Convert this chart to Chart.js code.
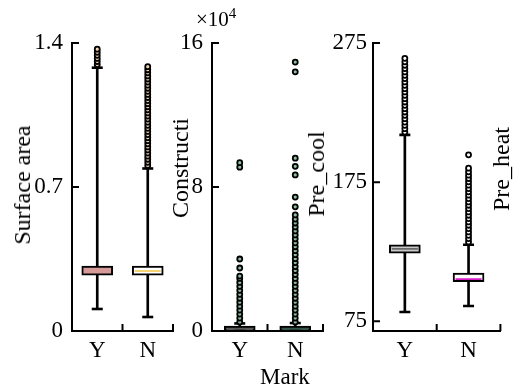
<!DOCTYPE html>
<html>
<head>
<meta charset="utf-8">
<script src="https://cdn.jsdelivr.net/npm/chart.js@4.4.1/dist/chart.umd.min.js"></script>
<style>
  html,body{margin:0;padding:0;background:#fff;}
  #wrap{position:relative;width:515px;height:390px;overflow:hidden;font-family:"Liberation Serif","Times New Roman",serif;color:#000;}
  #wrap canvas{position:absolute;left:0;top:0;}
  .lbl{position:absolute;white-space:nowrap;line-height:1;font-size:24px;}
  .rot{transform:translate(-50%,-50%) rotate(-90deg);}
</style>
</head>
<body>
<div id="wrap">
  <canvas id="c1" width="515" height="390"></canvas>
  <canvas id="c2" width="515" height="390"></canvas>
  <canvas id="c3" width="515" height="390"></canvas>
  <div class="lbl rot" style="left:22px;top:185px;">Surface area</div>
  <div class="lbl rot" style="left:180px;top:168px;">Constructi</div>
  <div class="lbl rot" style="left:316px;top:174px;">Pre_cool</div>
  <div class="lbl rot" style="left:501px;top:169px;">Pre_heat</div>
  <div class="lbl" style="left:196px;top:9px;font-size:21px;">×10<sup style="font-size:15px;vertical-align:8px;line-height:0;">4</sup></div>
  <div class="lbl" style="left:260px;top:365px;font-size:23px;">Mark</div>
</div>
<script>
// ---------- data ----------
const categories = ['Y', 'N'];

// Panel 1: Surface area
const saQ1 = [0.272, 0.272];
const saQ3 = [0.315, 0.315];
const saMedian = [0.292, 0.292];
const saWhiskerLow = [0.107, 0.068];
const saWhiskerHigh = [1.28, 0.79];
const saOutliersY = [1.295, 1.31, 1.325, 1.34, 1.355, 1.37];
const saOutliersN = [0.805, 0.82, 0.835, 0.85, 0.865, 0.88, 0.895, 0.91, 0.925, 0.94, 0.955, 0.97,
  0.985, 1.0, 1.015, 1.03, 1.045, 1.06, 1.075, 1.09, 1.105, 1.12, 1.135, 1.15, 1.165, 1.18,
  1.195, 1.21, 1.225, 1.24, 1.255, 1.27, 1.285];
const saTicks = [0, 0.7, 1.4];

// Panel 2: Constructi (x 10^4)
const coQ1 = [0, 0];
const coQ3 = [0.28, 0.28];
const coMedian = [0.1, 0.1];
const coWhiskerLow = [0, 0];
const coWhiskerHigh = [0.42, 0.44];
const coOutliersY = [0.5, 0.72, 0.94, 1.16, 1.38, 1.6, 1.82, 2.04, 2.26, 2.48, 2.7, 2.92, 3.05, 3.5, 4.0, 9.1, 9.35];
const coOutliersN = [0.5, 0.72, 0.94, 1.16, 1.38, 1.6, 1.82, 2.04, 2.26, 2.48, 2.7, 2.92, 3.14, 3.36,
  3.58, 3.8, 4.02, 4.24, 4.46, 4.68, 4.9, 5.12, 5.34, 5.56, 5.78, 6.0, 6.22, 6.45, 6.9, 7.44,
  8.67, 9.15, 9.6, 14.4, 14.94];
const coTicks = [0, 8, 16];

// Panel 3: Pre_cool
const pcQ1 = [124, 103.5];
const pcQ3 = [130, 109.7];
const pcMedian = [127, 105.3];
const pcWhiskerLow = [81.7, 86];
const pcWhiskerHigh = [209, 130];
const pcOutliersY = [211, 213.4, 215.8, 218.2, 220.6, 223, 225.4, 227.8, 230.2, 232.6, 235, 237.4,
  239.8, 242.2, 244.6, 247, 249.4, 251.8, 254.2, 256.6, 259, 261.5, 264];
const pcOutliersN = [132, 134.4, 136.8, 139.2, 141.6, 144, 146.4, 148.8, 151.2, 153.6, 156, 158.4,
  160.8, 163.2, 165.6, 168, 170.4, 172.8, 175.2, 177.6, 180, 182.4, 185, 194.6];
const pcTicks = [75, 175, 275];

// ---------- helpers ----------
const FONT = { family: '"Liberation Serif","Times New Roman",serif', size: 23 };

const inTicks = {
  id: 'inTicks',
  afterDraw(chart) {
    const ctx = chart.ctx, a = chart.chartArea, xs = chart.scales.x, ys = chart.scales.y;
    ctx.save();
    ctx.strokeStyle = '#000';
    ctx.lineWidth = 2;
    ctx.beginPath();
    ys.ticks.forEach((t, i) => {
      const p = ys.getPixelForTick(i);
      if (p < a.bottom - 3) { ctx.moveTo(a.left, p); ctx.lineTo(a.left + 7, p); }
    });
    const n = xs.ticks.length;
    for (let i = 0; i < n; i++) {
      const p = i < n - 1 ? (xs.getPixelForTick(i) + xs.getPixelForTick(i + 1)) / 2 : a.right;
      ctx.moveTo(p, a.bottom); ctx.lineTo(p, a.bottom - 7);
    }
    ctx.stroke();
    ctx.restore();
  }
};

function outlierData(yVals, nVals) {
  return yVals.map(v => ({ x: 'Y', y: v })).concat(nVals.map(v => ({ x: 'N', y: v })));
}

function makePanel(id, cfg) {
  const datasets = [
    { type: 'bar', data: cfg.lo.map((v, i) => [v, cfg.hi[i]]), backgroundColor: '#000',
      barThickness: 2, grouped: false, order: 6 },
    { type: 'bar', data: cfg.q1.map((v, i) => [v, cfg.q3[i]]), backgroundColor: cfg.boxFill,
      borderColor: '#000', borderWidth: 2, borderSkipped: false, barThickness: 31, grouped: false, order: 5 },
    { type: 'line', data: cfg.med, showLine: false, pointStyle: 'line', pointRadius: 13,
      pointBorderWidth: 1.6, pointBorderColor: cfg.medColor, order: 4 },
    { type: 'line', data: cfg.hi, showLine: false, pointStyle: 'line', pointRadius: 5.5,
      pointBorderWidth: 2.6, pointBorderColor: '#000', order: 3 },
    { type: 'line', data: cfg.lo, showLine: false, pointStyle: 'line', pointRadius: 5.5,
      pointBorderWidth: 2.6, pointBorderColor: '#000', order: 2 },
    { type: 'line', data: outlierData(cfg.outY, cfg.outN), showLine: false, pointStyle: 'circle',
      pointRadius: 2.5, pointBorderWidth: 1.8, pointBorderColor: '#000',
      pointBackgroundColor: cfg.dotFill, order: 1 }
  ];
  return new Chart(document.getElementById(id), {
    type: 'bar',
    data: { labels: categories, datasets },
    options: {
      responsive: false,
      devicePixelRatio: 1,
      animation: false,
      events: [],
      layout: { padding: { left: 0, right: 515 - cfg.right, top: 43, bottom: 0 } },
      plugins: { legend: { display: false }, tooltip: { enabled: false } },
      scales: {
        x: {
          type: 'category', offset: true,
          grid: { display: false, drawTicks: false },
          border: { display: true, color: '#000', width: 2 },
          ticks: { color: '#000', font: FONT, padding: 6, maxRotation: 0 },
          afterFit: s => { s.height = 390 - 331; }
        },
        y: {
          type: 'linear', min: cfg.min, max: cfg.max,
          grid: { display: false, drawTicks: false },
          border: { display: true, color: '#000', width: 2 },
          ticks: { color: '#000', font: FONT, padding: cfg.tickPad },
          afterBuildTicks: s => { s.ticks = cfg.ticks.map(v => ({ value: v })); },
          afterFit: s => { s.width = cfg.left; }
        }
      }
    },
    plugins: [inTicks]
  });
}

makePanel('c1', {
  left: 72, right: 173, min: 0, max: 1.4, ticks: saTicks, tickPad: 9,
  q1: saQ1, q3: saQ3, med: saMedian, lo: saWhiskerLow, hi: saWhiskerHigh,
  outY: saOutliersY, outN: saOutliersN,
  boxFill: ['#d69a99', '#ffffff'], medColor: ['#d69a99', '#f2c444'], dotFill: '#f4d3ae'
});
makePanel('c2', {
  left: 212, right: 323, min: 0, max: 16, ticks: coTicks, tickPad: 9,
  q1: coQ1, q3: coQ3, med: coMedian, lo: coWhiskerLow, hi: coWhiskerHigh,
  outY: coOutliersY, outN: coOutliersN,
  boxFill: ['#5a5a5a', '#34574a'], medColor: ['#5a5a5a', '#34574a'], dotFill: '#8fbfa2'
});
makePanel('c3', {
  left: 373, right: 505, min: 68, max: 275, ticks: pcTicks, tickPad: 6,
  q1: pcQ1, q3: pcQ3, med: pcMedian, lo: pcWhiskerLow, hi: pcWhiskerHigh,
  outY: pcOutliersY, outN: pcOutliersN,
  boxFill: ['#c9c9c9', '#ffffff'], medColor: ['#6a6a6a', '#d81ec8'], dotFill: '#ffffff'
});
</script>
</body>
</html>
